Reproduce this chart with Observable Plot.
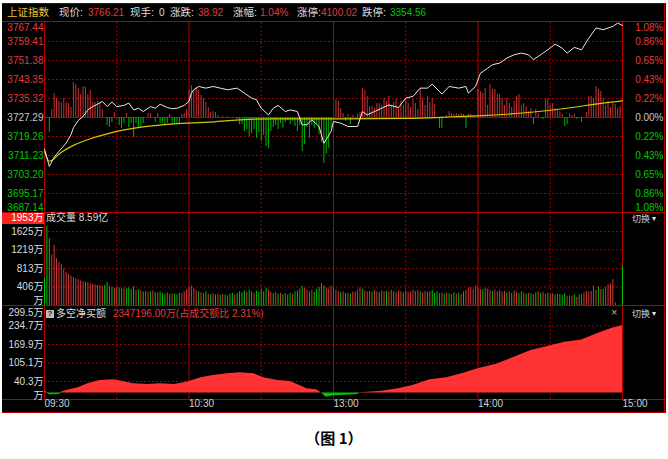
<!DOCTYPE html>
<html><head><meta charset="utf-8">
<script src="https://cdn.jsdelivr.net/npm/d3@7"></script>
<script src="https://cdn.jsdelivr.net/npm/@observablehq/plot@0.6"></script>
<style>
html,body{margin:0;padding:0;background:#fff;}
#root{position:relative;width:668px;height:459px;overflow:hidden;font-family:"Liberation Sans","Noto Sans CJK SC",sans-serif;}
</style></head><body><div id="root"></div>
<script>
// ---------- data ----------
const prevClose = 3727.29;
const headerName = "上证指数";
const headerLabels = ["现价:", "现手:", "涨跌:", "涨幅:", "涨停:", "跌停:"];
const headerValues = ["3766.21", "0", "38.92", "1.04%", "4100.02", "3354.56"];
const priceTicks = [3767.44, 3759.41, 3751.38, 3743.35, 3735.32, 3727.29, 3719.26, 3711.23, 3703.20, 3695.17, 3687.14];
const pctLabels = ["1.08%", "0.86%", "0.65%", "0.43%", "0.22%", "0.00%", "0.22%", "0.43%", "0.65%", "0.86%", "1.08%"];
const volTicks = [1625, 1219, 813, 406];
const volTopLabel = "1953万";
const volTitle = "成交量 8.59亿";
const netTicks = [234.7, 169.9, 105.1, 40.3];
const netTop = 299.5;
const netTitle = "多空净买额";
const netValueText = "2347196.00万(占成交额比 2.31%)";
const timeTicks = [0, 60, 120, 180, 240];
const timeLabels = ["09:30", "10:30", "13:00", "14:00", "15:00"];
const solidMinutes = [60, 120, 180];
const dottedMinutes = [30, 90, 150, 210];

// price line (minutes after 09:30, index points)
const priceT = [0,2,4,6,9,11,12,14,16,18,20,22,24,26,28,30,33,35,37,39,41,44,46,48,51,53,55,58,60,61,62,64,67,70,73,76,80,83,86,88,90,93,95,97,100,102,105,107,109,111,114,116,119,120,123,126,130,132,134,137,140,143,147,150,153,156,159,161,165,168,172,175,176,179,181,184,186,189,192,195,198,201,203,206,209,212,215,217,220,223,226,229,232,236,238,240];
const priceV = [3714.0,3706.6,3710.5,3713.0,3716.5,3720.0,3723.0,3726.0,3727.7,3730.5,3731.9,3732.9,3734.1,3731.9,3733.8,3731.9,3732.4,3733.4,3730.5,3731.2,3729.8,3731.9,3731.2,3732.9,3731.5,3731.0,3731.2,3732.4,3734.1,3737.6,3739.0,3740.4,3739.7,3740.4,3739.7,3739.0,3739.7,3737.6,3735.5,3734.8,3731.2,3728.4,3731.2,3732.4,3729.8,3730.5,3729.8,3724.2,3724.2,3726.3,3723.5,3716.4,3721.4,3725.6,3724.9,3723.5,3723.5,3729.8,3728.4,3729.8,3731.2,3732.6,3731.5,3735.5,3736.2,3739.7,3739.7,3741.4,3737.2,3740.4,3739.7,3740.4,3737.6,3740.4,3746.0,3748.1,3749.6,3750.3,3752.4,3753.8,3754.5,3753.8,3751.7,3753.8,3755.9,3758.3,3756.6,3754.5,3756.9,3755.9,3760.8,3765.1,3764.4,3765.8,3767.2,3766.2];
// average price line
const avgT = [0,2,7,12,19,26,40,54,68,81,95,123,150,170,180,201,217,232,240];
const avgV = [3713.0,3708.8,3712.6,3715.5,3718.3,3720.4,3723.2,3724.6,3725.3,3726.3,3726.7,3726.7,3726.9,3727.6,3728.0,3729.4,3731.2,3733.4,3734.3];
// red/green strength bars around previous close (index points), one per minute
const leadBars = [
  0,0,-6.3,3.4,10.1,8.0,6.8,6.3,8.0,6.3,
  5.9,4.2,14.8,13.9,12.3,9.7,13.1,12.7,9.7,11.4,
  6.3,6.3,6.8,6.3,3.4,0,-3.4,-4.2,-2.1,2.1,
  0,-3.4,-4.6,-2.5,1.7,-4.2,-2.5,-8.5,-2.5,-4.2,
  -4.6,-2.5,0,1.7,1.7,0,-2.1,1.7,-2.5,-2.5,
  -3.0,-2.5,1.3,-3.0,-2.5,-3.0,-2.5,1.3,1.7,3.4,
  11.4,13.5,11.8,12.7,11.4,9.3,8.0,6.3,4.2,2.1,
  2.5,2.1,0.8,0,0.4,0,0.4,0,-0.4,0,
  -0.8,-3.0,-3.0,-5.9,-5.1,-8.0,-6.8,-5.1,-8.9,-6.3,
  -10.1,-7.6,-12.3,-13.1,-5.9,-4.2,-3.4,-5.1,-2.5,-4.6,
  -2.1,-1.3,-3.0,-1.7,-3.8,-5.9,-3.4,-14.4,-11.4,-4.2,
  -8.9,-3.4,-4.6,-2.5,-7.2,-10.6,-19.4,-15.6,-13.1,-4.6,
  0,7.6,6.8,3.8,1.7,-1.7,1.3,-3.0,0.8,0,
  1.3,2.1,12.3,11.4,8.9,4.6,4.6,3.8,5.9,5.9,
  5.1,8.0,6.8,8.9,5.1,6.3,7.6,4.2,6.8,5.1,
  8.0,5.9,4.2,7.6,5.9,3.4,12.3,8.0,5.1,8.9,
  6.3,8.0,5.5,0,-4.6,-4.6,0,0.8,2.5,1.7,
  1.3,1.7,1.3,1.7,1.3,-4.6,1.3,1.3,0.8,0,
  11.8,11.0,10.1,12.3,5.1,13.9,11.8,11.8,9.7,9.7,
  8.0,5.1,8.0,5.9,4.2,6.8,8.9,9.7,5.1,5.9,
  4.6,2.5,3.8,-3.0,3.4,1.7,0,-0.8,7.6,8.0,
  5.1,5.9,3.8,3.0,2.5,1.3,-3.8,-3.0,1.7,0.8,
  1.3,-0.8,0,-2.1,0,2.1,8.9,8.9,8.0,13.1,
  11.8,11.0,8.0,5.1,6.8,4.2,5.9,5.5,3.8,4.6
];
// volume per minute (万股), 09:30 .. 15:00
const volume = [
  600,1740,1465,1110,1320,1025,940,895,805,720,
  680,645,610,585,565,540,525,510,500,475,
  460,455,440,440,420,440,500,410,395,380,
  400,390,370,385,360,380,350,410,330,340,
  320,300,310,290,300,320,280,270,300,260,
  250,280,240,260,250,230,270,260,300,350,
  390,420,370,330,300,280,260,300,250,240,
  260,230,250,220,240,230,210,250,270,230,
  260,300,280,320,290,330,300,270,310,290,
  350,300,380,340,290,260,280,250,270,240,
  260,230,270,250,300,320,360,420,380,340,
  300,330,290,350,400,480,430,390,360,420,
  380,330,300,280,300,260,270,250,290,300,
  340,390,360,320,300,310,290,330,300,280,
  320,300,310,290,330,300,280,320,300,280,
  320,290,300,340,310,330,300,280,310,290,
  300,330,270,300,260,280,250,270,260,240,
  280,250,270,240,300,330,380,400,360,420,
  380,350,340,380,360,330,310,340,300,320,
  290,310,280,300,270,320,290,260,300,280,
  250,270,260,240,280,300,260,290,250,270,
  240,260,230,250,240,220,255,205,205,205,
  235,180,230,235,280,310,300,310,425,330,
  400,350,350,400,455,470,570,60,0,0,
  865
];
// r = up minute (red), g = down minute (green)
const volDir = [
  "gggrrrrrrr","rrrrrrrgrr","rrrrrggrgr","rggrggggrg","rgrrgrgrgg","grgrggrrrr",
  "rrrrgrrgrg","rgrgrgrggr","ggggrggrgg","gggrrgrgrg","rggrggggrr","grgggggrrr",
  "rrrgrgrgrr","rrgrrrgrrg","rrgrrgrrrg","rrrrrrgrrg","rgggrrgrgr","grgrgrrrrr",
  "rrgrrrgrrg","rrgrgrrggr","grgrgrgrrg","rrgrgggrrr","grgrrrrrrr","grgrrrrrrr","g"
].join("");
// net buy amount (万)
const netT = [0,1,2,4,6,7,9,14,18,23,29,32,37,43,48,54,59,65,70,76,81,87,91,97,102,106,109,113,115,117,120,125,130,131,140,147,153,160,167,174,180,188,195,202,209,216,223,230,236,240];
const netV = [5,3,-6,-6,-5,3,9,18,32,44,46,41,32,30,32,30,38,53,61,67,71,67,53,44,40,26,15,11,0,-15,-10,-8,-5,1,6,15,26,46,53,69,85,102,125,149,163,178,186,209,228,236];
const caption = "（图 1）";

// ---------- styling ----------
const RED = "#e03c3c", GRN = "#00c800", GRY = "#c8c8c8", WHT = "#dcdcdc";
const GRID = "#a00000", LINE = "#b40000";
const FONT = "'Liberation Sans','Noto Sans CJK SC',sans-serif";
const root = document.getElementById("root");

function box(css) { const d = document.createElement("div"); d.style.cssText = "position:absolute;" + css; root.appendChild(d); return d; }
function txt(s, x, cy, color, size, extra = "") {
  const d = box(`left:${x}px;top:${cy - size * 0.62}px;font-size:${size}px;line-height:${size * 1.24}px;color:${color};white-space:nowrap;${extra}`);
  d.textContent = s; return d;
}
function hline(y, x1, x2, c = LINE) { box(`left:${x1}px;top:${y}px;width:${x2 - x1}px;height:1px;background:${c};`); }
function vline(x, y1, y2, c = LINE) { box(`left:${x}px;top:${y1}px;width:1px;height:${y2 - y1}px;background:${c};`); }

// background and frame
box("left:2px;top:3px;width:664px;height:410px;background:#000;");
hline(3, 2, 666, "#700000");
hline(21, 2, 666); hline(212, 2, 666); hline(305, 2, 666); hline(399, 2, 666); hline(412, 2, 666);
vline(44, 21, 399); vline(622, 21, 399); vline(664, 3, 412);
box(`left:2px;top:213px;width:42px;height:11px;background:#ff2020;`);

// header
txt(headerName, 7, 13, "#ecc030", 10.5);
const labX = [59, 130, 170, 233, 297, 362];
const valX = [88, 159, 198, 260, 321, 390];
const valC = [RED, WHT, RED, RED, RED, GRN];
headerLabels.forEach((s, i) => {
  txt(s, labX[i], 13, WHT, 10.5);
  txt(headerValues[i], valX[i], 13, valC[i], 10);
});

// panel titles & widgets
txt(volTitle, 46, 218, WHT, 10);
txt("切换", 632, 220, "#d0d0d0", 9);
txt("▾", 652, 219, "#e0e0e0", 8);
const q = box("left:46px;top:310px;width:8px;height:8px;background:#c0c0c0;font-size:8px;line-height:8px;text-align:center;color:#202020;font-weight:bold;");
q.textContent = "?";
txt(netTitle, 56, 314, WHT, 10);
txt(netValueText, 113, 314, RED, 10);
txt("×", 611, 313, "#b0b0b0", 11);
txt("切换", 632, 315, "#d0d0d0", 9);
txt("▾", 652, 314, "#e0e0e0", 8);
const cap = box("left:0;top:428px;width:668px;text-align:center;font-family:'Noto Sans CJK SC',sans-serif;font-weight:bold;font-size:15px;line-height:20px;color:#000;");
cap.textContent = caption;

// ---------- plots ----------
function place(el, top) { const d = box(`left:0;top:${top}px;`); d.appendChild(el); }
function panel(h, mb, ydom, marks) {
  return Plot.plot({
    width: 668, height: h, marginLeft: 44, marginRight: 46, marginTop: 0, marginBottom: mb,
    x: { domain: [0, 240], axis: null }, y: { domain: ydom, axis: null },
    style: `background:transparent;font-family:${FONT};font-size:10px;overflow:visible;max-width:none;`,
    marks
  });
}
function vgrid() {
  return [
    Plot.ruleX(dottedMinutes, { stroke: GRID, strokeDasharray: "2,2" }),
    Plot.ruleX(solidMinutes, { stroke: LINE })
  ];
}
function sideText(rows, side, fill, lineAnchor = "middle", dy = 0) {
  return Plot.text(rows, { y: "v", text: "s", frameAnchor: side, textAnchor: "end", dx: side === "left" ? -1 : 41, dy, lineAnchor, fill });
}

// price panel
const priceData = priceT.map((t, i) => ({ t, p: priceV[i] }));
const avgData = avgT.map((t, i) => ({ t, p: avgV[i] }));
const leadData = leadBars.map((v, t) => ({ t, v }));
const leftRows = priceTicks.map((v, i) => ({ v, s: v.toFixed(2), i }));
const rightRows = priceTicks.map((v, i) => ({ v, s: pctLabels[i], i }));
const grp = (rows, a, b) => rows.filter(r => r.i >= a && r.i <= b);

place(panel(190, 0, [priceTicks[10], priceTicks[0]], [
  Plot.ruleY(priceTicks.filter((d, i) => i > 0 && i < 10 && i !== 5), { stroke: GRID, strokeDasharray: "2,2" }),
  ...vgrid(),
  Plot.ruleY([prevClose], { stroke: LINE }),
  Plot.ruleX(leadData.filter(d => d.v > 0), { x: "t", y1: prevClose, y2: d => prevClose + d.v, stroke: "#c83232" }),
  Plot.ruleX(leadData.filter(d => d.v < 0), { x: "t", y1: prevClose, y2: d => prevClose + d.v, stroke: "#00b400" }),
  Plot.line(avgData, { x: "t", y: "p", stroke: "#d2c800", strokeWidth: 1.2, curve: "monotone-x" }),
  Plot.line(priceData, { x: "t", y: "p", stroke: "#e8e8e8", strokeWidth: 1 }),
  sideText(grp(leftRows, 0, 0), "left", RED, "top", 1),
  sideText(grp(leftRows, 1, 4), "left", RED),
  sideText(grp(leftRows, 5, 5), "left", GRY),
  sideText(grp(leftRows, 6, 9), "left", GRN),
  sideText(grp(leftRows, 10, 10), "left", GRN, "bottom", -2),
  sideText(grp(rightRows, 0, 0), "right", RED, "top", 1),
  sideText(grp(rightRows, 1, 4), "right", RED),
  sideText(grp(rightRows, 5, 5), "right", GRY),
  sideText(grp(rightRows, 6, 9), "right", GRN),
  sideText(grp(rightRows, 10, 10), "right", GRN, "bottom", -2)
]), 22);

// volume panel
const volData = volume.map((v, t) => ({ t, v, up: volDir[t] === "r" }));
place(panel(93, 0, [0, 2040], [
  Plot.ruleY(volTicks, { stroke: GRID, strokeDasharray: "2,2" }),
  ...vgrid(),
  Plot.ruleX(volData.filter(d => d.up && d.v > 0), { x: "t", y1: 0, y2: "v", stroke: "#d23737" }),
  Plot.ruleX(volData.filter(d => !d.up && d.v > 0), { x: "t", y1: 0, y2: "v", stroke: "#00c000" }),
  sideText(volTicks.map((v, i) => ({ v, s: v + "万" })), "left", WHT),
  Plot.text([volTopLabel], { text: d => d, frameAnchor: "top-left", textAnchor: "end", dx: -1, dy: 1.5, lineAnchor: "top", fill: "#ffffff" }),
  Plot.text(["万"], { text: d => d, frameAnchor: "bottom-left", textAnchor: "end", dx: -1, dy: -2, lineAnchor: "bottom", fill: WHT })
]), 212);

// net buy panel + time axis
const netData = netT.map((t, i) => ({ t, v: netV[i] }));
place(panel(108, 14, [-22.8, 306.5], [
  Plot.ruleY(netTicks, { stroke: GRID, strokeDasharray: "2,2" }),
  ...vgrid(),
  Plot.areaY(netData, { x: "t", y1: 0, y2: d => Math.max(0, d.v), fill: "#ff3333" }),
  Plot.areaY(netData, { x: "t", y1: 0, y2: d => Math.min(0, d.v), fill: "#00c800" }),
  sideText(netTicks.map(v => ({ v, s: v.toFixed(1) + "万" })), "left", WHT),
  sideText([{ v: netTop, s: netTop.toFixed(1) + "万" }], "left", WHT, "top", 1.5),
  Plot.text(["万"], { text: d => d, frameAnchor: "bottom-left", textAnchor: "end", dx: -1, dy: -1, lineAnchor: "bottom", fill: WHT }),
  Plot.text(timeTicks, { x: d => d, text: (d, i) => timeLabels[i], frameAnchor: "bottom", dy: 7, textAnchor: "start", fill: "#d0d0d0" })
]), 305);
</script></body></html>
